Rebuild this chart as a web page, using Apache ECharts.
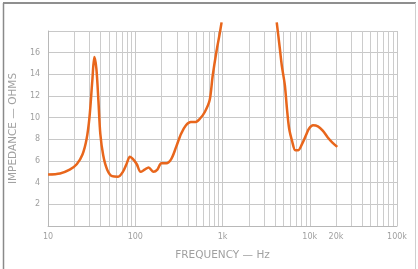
<!DOCTYPE html>
<html><head><meta charset="utf-8">
<script src="https://cdn.jsdelivr.net/npm/echarts@6/dist/echarts.min.js"></script>
<style>html,body{margin:0;padding:0;background:#fff}#c{width:418px;height:269px}</style>
</head><body><div id="c"></div>
<script>
// Low-frequency segment (Hz, ohms)
var lowFreq = [10, 13.7, 17.7, 21.3, 24.8, 27.6, 29.8, 32.2, 33.9, 35.8, 37.8, 39.7, 42.9, 47.6, 54.2, 63.5, 72, 80, 86.6, 93.6, 104, 115, 128, 142, 162, 179, 199, 227, 259, 294, 334, 381, 433, 492, 550, 624, 711, 769, 855, 921, 975];
var lowOhm  = [4.75, 4.85, 5.2, 5.7, 6.6, 8.0, 10.0, 13.5, 15.6, 14.5, 11.5, 8.5, 6.5, 5.2, 4.6, 4.55, 5.0, 5.8, 6.4, 6.2, 5.7, 5.0, 5.2, 5.4, 5.0, 5.2, 5.8, 5.8, 6.2, 7.3, 8.5, 9.3, 9.6, 9.6, 9.9, 10.5, 11.6, 13.8, 16.2, 17.6, 18.8];
// High-frequency segment
var highFreq = [4180, 4520, 4780, 5180, 5480, 5800, 6290, 6820, 7390, 8190, 9070, 9830, 10900, 12390, 14080, 16000, 18180, 20660];
var highOhm  = [18.8, 16.5, 14.8, 13.0, 10.8, 9.0, 7.8, 7.0, 7.0, 7.6, 8.4, 9.0, 9.3, 9.2, 8.8, 8.2, 7.7, 7.3];
var xTickValues = [10, 100, 1000, 10000, 20000, 100000];
var xTickLabels = ['10', '100', '1k', '10k', '20k', '100k'];
var decades = [10, 100, 1000, 10000];
var multipliers = [2, 3, 4, 5, 6, 7, 8, 9];

var data = [];
for (var i = 0; i < lowFreq.length; i++) data.push([lowFreq[i], lowOhm[i]]);
data.push([2000, null]);
for (var j = 0; j < highFreq.length; j++) data.push([highFreq[j], highOhm[j]]);

var gridLines = [];
decades.forEach(function (d) {
  multipliers.forEach(function (m) { gridLines.push({ xAxis: d * m }); });
});

var chart = echarts.init(document.getElementById('c'), null, { renderer: 'canvas' });
var txt = '#a0a0a0';
chart.setOption({
  animation: false,
  grid: { left: 43, right: 21, top: 31, bottom: 43 },
  graphic: [
    { type: 'line', shape: { x1: 3, y1: 3, x2: 416, y2: 3 }, style: { stroke: '#6a6a6a', lineWidth: 1.5 } },
    { type: 'line', shape: { x1: 3.5, y1: 3, x2: 3.5, y2: 269 }, style: { stroke: '#8a8a8a', lineWidth: 1.5 } },
    { type: 'line', shape: { x1: 415.5, y1: 3, x2: 415.5, y2: 269 }, style: { stroke: '#cfcfcf', lineWidth: 1 } }
  ],
  xAxis: {
    type: 'log', logBase: 10, min: 10, max: 100000,
    name: 'FREQUENCY — Hz', nameLocation: 'middle', nameGap: 24,
    nameTextStyle: { color: txt, fontSize: 10.5, fontFamily: 'DejaVu Sans' },
    axisLine: { show: true, lineStyle: { color: '#b8b8b8', width: 1 } },
    axisTick: { show: false },
    axisLabel: {
      color: txt, fontSize: 8, fontFamily: 'DejaVu Sans', margin: 7,
      customValues: xTickValues,
      formatter: function (v) {
        var k = xTickValues.indexOf(Math.round(v));
        return k >= 0 ? xTickLabels[k] : '';
      }
    },
    splitLine: { show: true, lineStyle: { color: '#c8c8c8', width: 1 } }
  },
  yAxis: {
    type: 'value', min: 0, max: 18, interval: 2,
    name: 'IMPEDANCE — OHMS', nameLocation: 'middle', nameGap: 17, nameRotate: 90,
    nameTextStyle: { color: txt, fontSize: 10.5, fontFamily: 'DejaVu Sans' },
    axisLine: { show: true, lineStyle: { color: '#b8b8b8', width: 1 } },
    axisTick: { show: false },
    axisLabel: {
      color: txt, fontSize: 8, fontFamily: 'DejaVu Sans', margin: 8,
      formatter: function (v) { return (v > 0 && v < 18) ? String(v) : ''; }
    },
    splitLine: { show: true, lineStyle: { color: '#c8c8c8', width: 1 } }
  },
  series: [{
    type: 'line', data: data, showSymbol: false, smooth: 0.3, connectNulls: false, clip: false,
    lineStyle: { color: '#e8661c', width: 2.5 },
    markLine: {
      silent: true, symbol: ['none', 'none'], label: { show: false },
      lineStyle: { color: '#cccccc', width: 1, type: 'solid' },
      data: gridLines, animation: false
    },
    z: 5
  }]
});
</script></body></html>
